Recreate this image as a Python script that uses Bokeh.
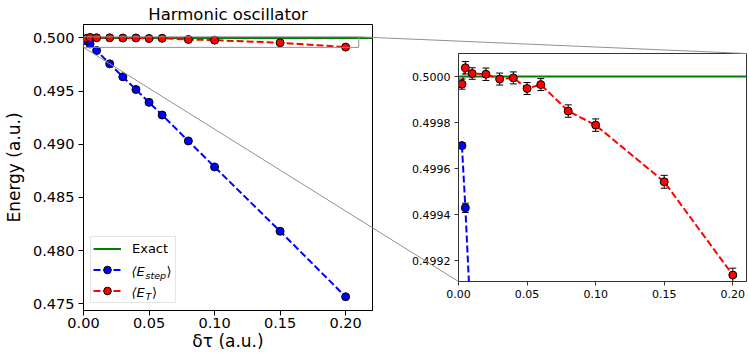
from bokeh.plotting import figure
from bokeh.layouts import row
from bokeh.models import (Range1d, FixedTicker, PrintfTickFormatter, Legend, LegendItem,
                          Label, BoxAnnotation, ColumnDataSource)
from bokeh.embed import file_html
from bokeh.resources import INLINE

# ---------------- data ----------------
dt = [0.0025, 0.005, 0.01, 0.02, 0.03, 0.04, 0.05, 0.06, 0.08, 0.10, 0.15, 0.20]
e_step = [0.49970, 0.49943, 0.49881, 0.49756, 0.49634, 0.49515, 0.49394, 0.49275,
          0.49031, 0.48787, 0.48182, 0.47566]
e_step_err = [0.000012, 0.000020, 0.000020, 0.000020, 0.000020, 0.000020, 0.000020,
              0.000020, 0.000020, 0.000020, 0.000020, 0.000020]
e_t = [0.499967, 0.500038, 0.500013, 0.500010, 0.499989, 0.499994, 0.499948, 0.499965,
       0.499850, 0.499789, 0.499543, 0.499138]
e_t_err = [0.000022, 0.000027, 0.000025, 0.000027, 0.000026, 0.000026, 0.000026, 0.000026,
           0.000027, 0.000027, 0.000028, 0.000030]
exact = 0.5

main_x = (0.0, 0.2205)
main_y = (0.47437, 0.50126)
zoom_x = (0.0, 0.21)
zoom_y = (0.49911, 0.50010)

main_xticks = [0.0, 0.05, 0.10, 0.15, 0.20]
main_yticks = [0.475, 0.480, 0.485, 0.490, 0.495, 0.500]
zoom_xticks = [0.0, 0.05, 0.10, 0.15, 0.20]
zoom_yticks = [0.4992, 0.4994, 0.4996, 0.4998, 0.5000]

FONT = "DejaVu Sans"
GREY = "#909090"

# ---------------- layout (pixels) ----------------
W1, W2, H = 380, 369, 354
M_L, M_R, M_T, M_B = 83, 8, 24, 44
Z_L, Z_R, Z_T, Z_B = 78, 3, 53, 73


def style(p, fs, xfmt, yfmt, xt, yt, line_col):
    p.xaxis.ticker = FixedTicker(ticks=xt)
    p.yaxis.ticker = FixedTicker(ticks=yt)
    p.xaxis.formatter = PrintfTickFormatter(format=xfmt)
    p.yaxis.formatter = PrintfTickFormatter(format=yfmt)
    for ax in (p.xaxis[0], p.yaxis[0]):
        ax.major_tick_in = 0
        ax.major_tick_out = 5
        ax.minor_tick_line_color = None
        ax.axis_line_color = line_col
        ax.major_tick_line_color = line_col
        ax.major_label_text_font = FONT
        ax.major_label_text_font_size = fs
        ax.major_label_text_color = "black"
        ax.major_label_standoff = 4
        ax.axis_label_text_font = FONT
        ax.axis_label_text_font_size = "17px"
        ax.axis_label_text_font_style = "normal"
        ax.axis_label_text_color = "black"
    p.xgrid.grid_line_color = None
    p.ygrid.grid_line_color = None
    p.outline_line_color = line_col
    p.outline_line_alpha = 1.0
    p.outline_line_width = 1
    p.background_fill_color = None
    p.border_fill_color = None


def draw_series(p, y, err, color):
    src = ColumnDataSource(dict(x=dt, y=y,
                                lo=[a - b for a, b in zip(y, err)],
                                hi=[a + b for a, b in zip(y, err)]))
    ln = p.line("x", "y", source=src, line_color=color, line_width=2, line_dash="7 3")
    p.segment("x", "lo", "x", "hi", source=src, line_color="black", line_width=1)
    p.scatter("x", "lo", source=src, marker="dash", size=7, line_color="black", line_width=1)
    p.scatter("x", "hi", source=src, marker="dash", size=7, line_color="black", line_width=1)
    sc = p.scatter("x", "y", source=src, size=8, fill_color=color, line_color="black",
                   line_width=1)
    return ln, sc


# ---------------- main plot ----------------
p = figure(width=W1, height=H, x_range=Range1d(*main_x), y_range=Range1d(*main_y),
           output_backend="svg", toolbar_location=None, frame_align=False,
           min_border_left=M_L, min_border_right=M_R, min_border_top=M_T, min_border_bottom=M_B,
           title="Harmonic oscillator")
p.title.align = "center"
p.title.text_font = FONT
p.title.text_font_size = "16.5px"
p.title.text_font_style = "normal"
p.title.text_color = "black"
p.title.standoff = 2
p.xaxis.axis_label = "δτ (a.u.)"
p.yaxis.axis_label = "Energy (a.u.)"
style(p, "14.5px", "%.2f", "%.3f", main_xticks, main_yticks, "black")
p.xaxis.major_label_standoff = 2
p.xaxis.axis_label_standoff = 0
p.yaxis.axis_label_standoff = 6

g = p.line(x=list(main_x), y=[exact, exact], line_color="green", line_width=2)
bl, bs = draw_series(p, e_step, e_step_err, "blue")
rl, rs = draw_series(p, e_t, e_t_err, "red")

p.add_layout(BoxAnnotation(left=zoom_x[0], right=zoom_x[1], bottom=zoom_y[0], top=zoom_y[1],
                           fill_alpha=0, line_color=GREY, line_width=1, line_alpha=1))

legend = Legend(items=[LegendItem(label="Exact", renderers=[g]),
                       LegendItem(label=" ", renderers=[bl, bs]),
                       LegendItem(label=" ", renderers=[rl, rs])],
                location=(7, 7), padding=2, spacing=2, glyph_height=19, label_height=19,
                glyph_width=28, label_standoff=11, label_width=41, margin=0,
                label_text_font=FONT, label_text_font_size="13px", label_text_color="black",
                border_line_color="#cccccc", border_line_width=1,
                background_fill_color=None)
p.add_layout(legend)

# math-style legend labels
LX = 7 + 2 + 28 + 11


def math_label(y, sub, subw):
    pieces = [Label(x=LX, y=y, text="⟨E", text_font_size="13px", text_font_style="italic"),
              Label(x=LX + 14, y=y - 4, text=sub, text_font_size="9.5px",
                    text_font_style="italic"),
              Label(x=LX + 15 + subw, y=y, text="⟩", text_font_size="13px")]
    for lab in pieces:
        lab.x_units = "screen"
        lab.y_units = "screen"
        lab.text_font = FONT
        lab.text_color = "black"
        lab.text_alpha = 1.0
        lab.text_baseline = "middle"
        lab.text_align = "left"
        lab.level = "overlay"
        p.add_layout(lab)


math_label(310 - 270.5 - (H - M_B - 310), "step", 20)
math_label(310 - 291.5 - (H - M_B - 310), "T", 5.5)

# ---------------- inset (zoom) plot ----------------
z = figure(width=W2, height=H, x_range=Range1d(*zoom_x), y_range=Range1d(*zoom_y),
           output_backend="svg", toolbar_location=None, frame_align=False,
           min_border_left=Z_L, min_border_right=Z_R, min_border_top=Z_T, min_border_bottom=Z_B)
style(z, "11px", "%.2f", "%.4f", zoom_xticks, zoom_yticks, "#333333")
z.xaxis.major_tick_out = 4
z.yaxis.major_tick_out = 4
z.line(x=list(zoom_x), y=[exact, exact], line_color="green", line_width=2)
draw_series(z, e_step, e_step_err, "blue")
draw_series(z, e_t, e_t_err, "red")

# ---------------- connector lines (computed from layout geometry) ----------------
mfw, mfh = W1 - M_L - M_R, H - M_T - M_B
zfw, zfh = W2 - Z_L - Z_R, H - Z_T - Z_B


def m_px(x, y):
    return (M_L + (x - main_x[0]) / (main_x[1] - main_x[0]) * mfw,
            M_T + (main_y[1] - y) / (main_y[1] - main_y[0]) * mfh)


def m_data(px, py):
    return (main_x[0] + (px - M_L) / mfw * (main_x[1] - main_x[0]),
            main_y[1] - (py - M_T) / mfh * (main_y[1] - main_y[0]))


def z_data(px, py):
    px -= W1
    return (zoom_x[0] + (px - Z_L) / zfw * (zoom_x[1] - zoom_x[0]),
            zoom_y[1] - (py - Z_T) / zfh * (zoom_y[1] - zoom_y[0]))


conns = [(m_px(zoom_x[1], zoom_y[1]), (W1 + Z_L + zfw, Z_T)),
         (m_px(zoom_x[0], zoom_y[0]), (W1 + Z_L, Z_T + zfh))]
for (ax_, ay_), (bx_, by_) in conns:
    cx = W1 + 1
    cy = ay_ + (cx - ax_) / (bx_ - ax_) * (by_ - ay_)
    cx0 = W1 - 1
    cy0 = ay_ + (cx0 - ax_) / (bx_ - ax_) * (by_ - ay_)
    a = m_data(ax_, ay_)
    c = m_data(cx, cy)
    r = p.segment(x0=[a[0]], y0=[a[1]], x1=[c[0]], y1=[c[1]], line_color=GREY, line_width=1)
    r.level = "overlay"
    c2 = z_data(cx0, cy0)
    b = z_data(bx_, by_)
    r2 = z.segment(x0=[c2[0]], y0=[c2[1]], x1=[b[0]], y1=[b[1]], line_color=GREY, line_width=1)
    r2.level = "overlay"

layout = row(p, z)
open("out.html", "w").write(file_html(layout, INLINE))
